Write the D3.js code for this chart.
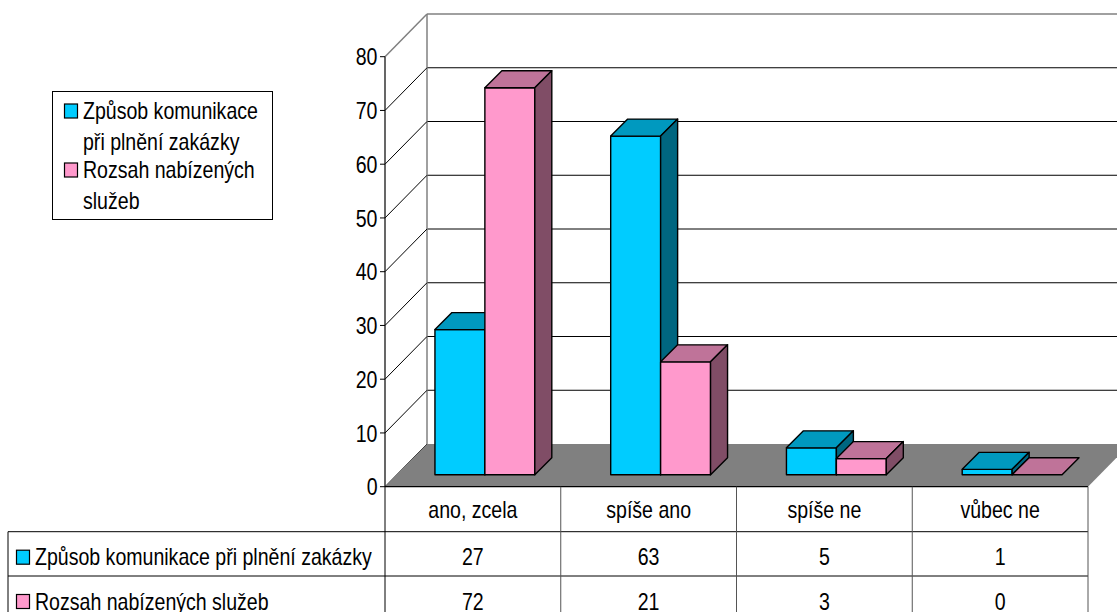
<!DOCTYPE html>
<html>
<head>
<meta charset="utf-8">
<script src="https://cdn.jsdelivr.net/npm/d3@7"></script>
<style>
  html, body { margin: 0; padding: 0; background: #fff; }
  svg { display: block; }
  text { font-family: "Liberation Sans", Arial, sans-serif; font-size: 24px; fill: #000; }
</style>
</head>
<body>
<svg id="chart" width="1117" height="612"></svg>
<script>
// ---- data ----
const categories = ["ano, zcela", "spíše ano", "spíše ne", "vůbec ne"];
const seriesNames = ["Způsob komunikace při plnění zakázky", "Rozsah nabízených služeb"];
const seriesLegendLines = [["Způsob komunikace", "při plnění zakázky"], ["Rozsah nabízených", "služeb"]];
const valuesKomunikace = [27, 63, 5, 1];
const valuesRozsah = [72, 21, 3, 0];
const yTicks = [0, 10, 20, 30, 40, 50, 60, 70, 80];

const seriesValues = [valuesKomunikace, valuesRozsah];
const faceColors = [
  { front: "#00CCFF", top: "#0099BF", side: "#006680" },
  { front: "#FF99CC", top: "#BF7399", side: "#804D66" }
];

const svg = d3.select("#chart");
const W = 1117, H = 612;

// condensed type: a narrow sans drawn by squeezing the regular face horizontally
const NARROW = 0.815;
function label(g, px, py, str, anchor) {
  return g.append("text")
    .attr("transform", `translate(${px},${py}) scale(${NARROW},1)`)
    .attr("text-anchor", anchor || "start")
    .text(str);
}

// ---- layout ----
const plotLeft = 385, plotRight = 1088;
const floorY = 486.7;
const depthX = 42, depthY = 42.7;        // oblique offset of the back wall
const barZ = 12, barDepth = 17;          // bars sit inside the floor depth

const y = d3.scaleLinear().domain([0, 80]).range([floorY, 56.7]);
const x = d3.scaleBand().domain(categories).range([plotLeft, plotRight]).padding(0);
const bw = x.bandwidth();
const inner = d3.scaleBand().domain(d3.range(seriesNames.length))
  .range([bw * 38 / 176, bw * 138 / 176]).padding(0);

// ---- back wall gridlines ----
const back = svg.append("g");
back.selectAll("line.grid").data(yTicks.filter(d => d > 0)).join("line")
  .attr("x1", plotLeft + depthX).attr("x2", W)
  .attr("y1", d => y(d) - depthY).attr("y2", d => y(d) - depthY)
  .attr("stroke", d => d === 80 ? "#808080" : "#000").attr("stroke-width", d => d === 80 ? 1.5 : 1);

// back wall left edge
back.append("line")
  .attr("x1", plotLeft + depthX).attr("x2", plotLeft + depthX)
  .attr("y1", y(80) - depthY).attr("y2", y(0) - depthY)
  .attr("stroke", "#808080").attr("stroke-width", 1.5);

// side wall diagonals
back.selectAll("line.diag").data(yTicks).join("line")
  .attr("x1", plotLeft).attr("y1", d => y(d))
  .attr("x2", plotLeft + depthX).attr("y2", d => y(d) - depthY)
  .attr("stroke", d => d === 80 ? "#808080" : "#000").attr("stroke-width", d => d === 80 ? 1.5 : 1);

// ---- floor ----
svg.append("polygon")
  .attr("points", [
    [plotLeft, floorY], [plotRight, floorY],
    [plotRight + depthX, floorY - depthY], [plotLeft + depthX, floorY - depthY]
  ].map(p => p.join(",")).join(" "))
  .attr("fill", "#808080");

// ---- 3D bars ----
const bars = svg.append("g").attr("stroke", "#000").attr("stroke-width", 1.4).attr("stroke-linejoin", "round");
categories.forEach((cat, ci) => {
  seriesValues.forEach((vals, si) => {
    const v = vals[ci];
    const x0 = x(cat) + inner(si) + barZ;
    const w = inner.bandwidth();
    const yt = y(v) - barZ, yb = y(0) - barZ;
    const d = barDepth;
    const c = faceColors[si];
    const g = bars.append("g");
    if (yb - yt > 0.1) {
      g.append("rect").attr("x", x0).attr("y", yt).attr("width", w).attr("height", yb - yt).attr("fill", c.front);
    }
    g.append("polygon").attr("fill", c.top)
      .attr("points", [[x0, yt], [x0 + d, yt - d], [x0 + w + d, yt - d], [x0 + w, yt]].map(p => p.join(",")).join(" "));
    if (yb - yt > 0.1) {
      g.append("polygon").attr("fill", c.side)
        .attr("points", [[x0 + w, yt], [x0 + w + d, yt - d], [x0 + w + d, yb - d], [x0 + w, yb]].map(p => p.join(",")).join(" "));
    }
  });
});

// ---- value axis ----
const axis = svg.append("g");
axis.append("line").attr("x1", plotLeft).attr("x2", plotLeft).attr("y1", y(80)).attr("y2", y(0))
  .attr("stroke", "#000").attr("stroke-width", 1.2);
axis.selectAll("line.tick").data(yTicks).join("line")
  .attr("x1", plotLeft - 5).attr("x2", plotLeft).attr("y1", d => y(d)).attr("y2", d => y(d))
  .attr("stroke", "#000");
yTicks.forEach(t => label(axis, plotLeft - 7.5, y(t) + 8.6, t, "end"));

// ---- data table ----
const tableLeft = 8;
const rowTop = [floorY, 531.7, 576, 620.3];
const tbl = svg.append("g");
const lineColor = "#000";
// horizontal rules
tbl.append("line").attr("x1", plotLeft).attr("x2", plotRight).attr("y1", rowTop[0]).attr("y2", rowTop[0]).attr("stroke", lineColor).attr("stroke-width", 1.2);
[rowTop[1], rowTop[2]].forEach(yy => {
  tbl.append("line").attr("x1", tableLeft).attr("x2", plotRight).attr("y1", yy).attr("y2", yy).attr("stroke", lineColor);
});
// vertical rules
categories.concat(["end"]).forEach((cat, i) => {
  const xx = i < categories.length ? x(cat) : plotRight;
  tbl.append("line").attr("x1", xx).attr("x2", xx).attr("y1", rowTop[0]).attr("y2", H).attr("stroke", i === 0 ? "#000" : "#555");
});
tbl.append("line").attr("x1", tableLeft).attr("x2", tableLeft).attr("y1", rowTop[1]).attr("y2", H).attr("stroke", lineColor);

// category header
categories.forEach(c => label(tbl, x(c) + bw / 2, 518.3, c, "middle"));

// series rows
const rowBase = [565, 609.5];
seriesNames.forEach((name, si) => {
  const rowY = rowTop[1 + si];
  tbl.append("rect").attr("x", 16.5).attr("y", rowY + 18.5).attr("width", 13).attr("height", 14)
    .attr("fill", faceColors[si].front).attr("stroke", "#000").attr("stroke-width", 1.2);
  label(tbl, 35, rowBase[si], name);
  categories.forEach((c, ci) => label(tbl, x(c) + bw / 2, rowBase[si], seriesValues[si][ci], "middle"));
});

// ---- legend ----
const leg = svg.append("g");
leg.append("rect").attr("x", 52.5).attr("y", 91.5).attr("width", 220).attr("height", 128)
  .attr("fill", "#fff").attr("stroke", "#000").attr("stroke-width", 1);
const legBase = [[119, 150], [178, 209]];
seriesLegendLines.forEach((lines, si) => {
  leg.append("rect").attr("x", 64.5).attr("y", legBase[si][0] - 15).attr("width", 13).attr("height", 14)
    .attr("fill", faceColors[si].front).attr("stroke", "#000").attr("stroke-width", 1.2);
  lines.forEach((ln, li) => label(leg, 83, legBase[si][li], ln));
});
</script>
</body>
</html>
